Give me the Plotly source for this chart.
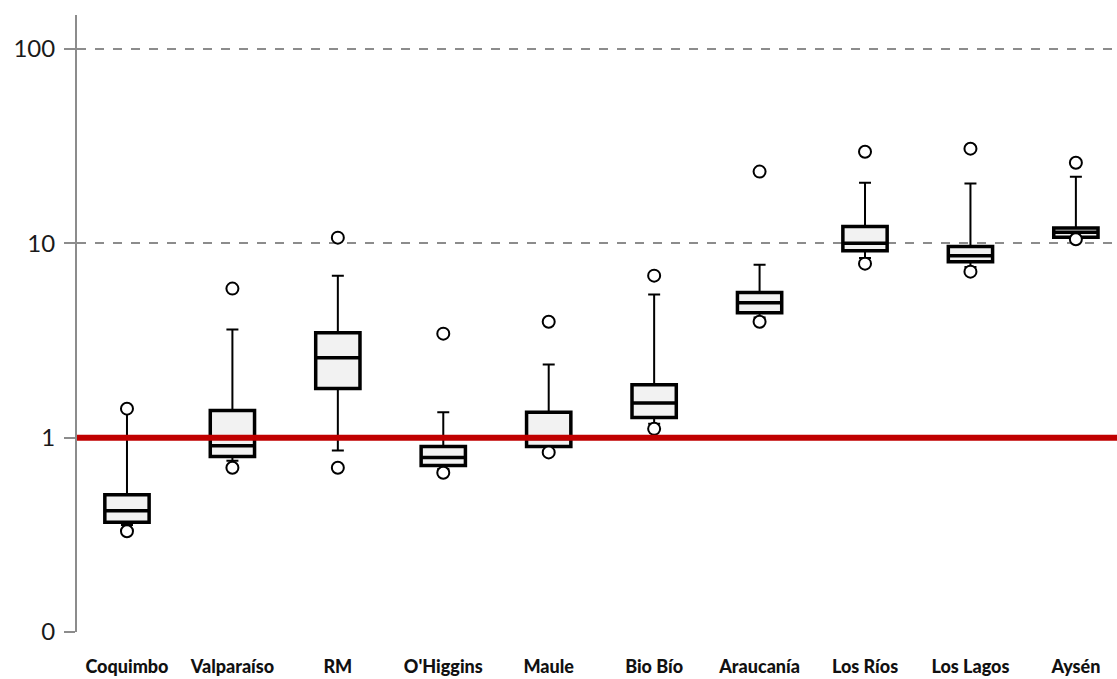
import plotly.graph_objects as go

# Regional ratios, log scale
categories = ["Coquimbo", "Valparaíso", "RM", "O'Higgins", "Maule",
              "Bio Bío", "Araucanía", "Los Ríos", "Los Lagos", "Aysén"]
whisker_low = [0.355, 0.76, 0.86, 0.69, 0.86, 1.18, 4.15, 8.4, 7.55, 10.65]
q1 = [0.367, 0.80, 1.79, 0.72, 0.90, 1.27, 4.40, 9.17, 8.05, 10.75]
median = [0.421, 0.91, 2.58, 0.79, 0.99, 1.51, 4.95, 10.0, 8.64, 11.4]
q3 = [0.509, 1.38, 3.47, 0.90, 1.35, 1.87, 5.58, 12.2, 9.62, 12.0]
whisker_high = [1.38, 3.6, 6.82, 1.35, 2.38, 5.45, 7.77, 20.5, 20.3, 22.0]
outlier_high = [1.41, 5.85, 10.7, 3.43, 3.95, 6.82, 23.4, 29.6, 30.7, 26.0]
outlier_low = [0.33, 0.70, 0.70, 0.66, 0.84, 1.11, 3.95, 7.86, 7.15, 10.5]
reference_level = 1

tick_vals = [0.1, 1, 10, 100]
tick_text = ["0", "1", "10", "100"]

fig = go.Figure()

# whiskers as error bars anchored on the box edges
fig.add_trace(go.Scatter(
    x=categories, y=q3, mode="markers",
    marker=dict(size=1, color="rgba(0,0,0,0)"),
    error_y=dict(type="data", symmetric=False,
                 array=[h - q for h, q in zip(whisker_high, q3)],
                 arrayminus=[0] * len(q3),
                 color="black", thickness=2, width=6),
    hoverinfo="skip", showlegend=False))
fig.add_trace(go.Scatter(
    x=categories, y=q1, mode="markers",
    marker=dict(size=1, color="rgba(0,0,0,0)"),
    error_y=dict(type="data", symmetric=False,
                 array=[0] * len(q1),
                 arrayminus=[q - l for q, l in zip(q1, whisker_low)],
                 color="black", thickness=2, width=6),
    hoverinfo="skip", showlegend=False))

# boxes
fig.add_trace(go.Box(
    x=categories, q1=q1, median=median, q3=q3,
    lowerfence=q1, upperfence=q3,
    fillcolor="#f2f2f2", line=dict(color="black", width=3.5),
    width=0.42, whiskerwidth=0, boxpoints=False, showlegend=False))

# outliers
for vals in (outlier_high, outlier_low):
    fig.add_trace(go.Scatter(
        x=categories, y=vals, mode="markers",
        marker=dict(symbol="circle", size=12, color="white",
                    line=dict(color="black", width=2)),
        showlegend=False))

# reference line at 1
fig.add_shape(type="line", xref="paper", yref="y",
              x0=0, x1=1, y0=reference_level, y1=reference_level,
              line=dict(color="#c00000", width=6), layer="above")

fig.update_layout(
    width=1117, height=679,
    margin=dict(l=77, r=0, t=15, b=47),
    paper_bgcolor="white", plot_bgcolor="white",
    font=dict(family="Lato, Liberation Sans, sans-serif", color="#1a1a1a"),
    xaxis=dict(
        type="category", range=[-0.474, 9.39],
        showgrid=False, showline=False, zeroline=False, ticks="",
        tickfont=dict(size=18, family="Lato Black, Lato, sans-serif", color="#111111"),
        ticklabelstandoff=22,
    ),
    yaxis=dict(
        type="log", range=[-1, 2.175],
        tickvals=tick_vals, ticktext=tick_text,
        tickfont=dict(size=24, color="#1a1a1a"),
        ticklabelstandoff=4,
        showgrid=True, gridcolor="#8c8c8c", griddash="dash", gridwidth=1.5,
        showline=True, linecolor="#8c8c8c", linewidth=2,
        ticks="outside", ticklen=11, tickcolor="#8c8c8c", tickwidth=1.5,
        zeroline=False,
    ),
)

fig.write_html("out.html")
